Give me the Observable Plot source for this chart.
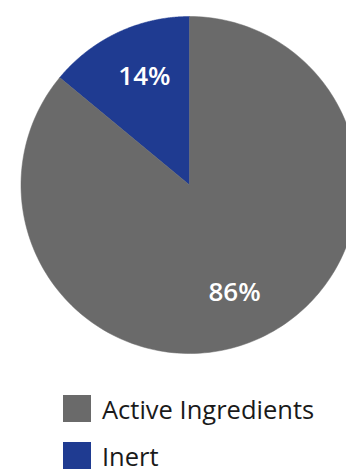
<!DOCTYPE html>
<html>
<head>
<meta charset="utf-8">
<script src="https://cdn.jsdelivr.net/npm/d3@7"></script>
<script src="https://cdn.jsdelivr.net/npm/@observablehq/plot@0.6"></script>
<style>
  html, body { margin: 0; padding: 0; background: #fff; width: 346px; height: 472px; overflow: hidden; position: relative; }
  #legend { font-family: "Open Sans", sans-serif; font-size: 25.5px; color: #1a1a1a; }
  .row { position: absolute; left: 63px; display: flex; align-items: center; height: 27px; }
  .row span { line-height: 22px; display: block; }
  .sw { width: 28px; height: 27px; margin-right: 11px; flex: none; }
</style>
</head>
<body>
<div id="chart"></div>
<div id="legend"></div>
<script>
const categories = ["Inert", "Active Ingredients"];
const values = [14, 86];
const labels = ["14%", "86%"];
const colors = ["#1f3b91", "#6a6a6a"];
const legendOrder = ["Active Ingredients", "Inert"];

const W = 346, H = 372;
const cx = 189, cy = 184.5, R = 168.5;

const total = d3.sum(values);
const start = -values[0] / total * 2 * Math.PI;
const arcs = d3.pie().sort(null).value(d => d)
  .startAngle(start).endAngle(start + 2 * Math.PI)(values);

const polys = [];
arcs.forEach((a, i) => {
  const n = 200;
  polys.push({cat: categories[i], x: cx, y: cy});
  for (let k = 0; k <= n; k++) {
    const t = a.startAngle + (a.endAngle - a.startAngle) * k / n;
    polys.push({cat: categories[i], x: cx + R * Math.sin(t), y: cy - R * Math.cos(t)});
  }
  polys.push({cat: categories[i], x: cx, y: cy});
});

const labelData = arcs.map((a, i) => {
  const m = (a.startAngle + a.endAngle) / 2 + 0.045;
  const rr = R * 0.695;
  return {label: labels[i], x: cx + rr * Math.sin(m), y: cy - rr * Math.cos(m)};
});

const plot = Plot.plot({
  width: W, height: H,
  margin: 0,
  x: {domain: [0, W], range: [0, W], axis: null},
  y: {domain: [0, H], range: [0, H], axis: null},
  color: {domain: categories, range: colors},
  style: {background: "#fff"},
  marks: [
    ...categories.map((c, i) => Plot.line(polys.filter(d => d.cat === c), {
      x: "x", y: "y", fill: colors[i], stroke: colors[i], strokeWidth: 0.5, curve: "linear"
    })),
    Plot.text(labelData, {
      x: "x", y: "y", text: "label", fill: "white",
      fontSize: 26, fontWeight: 600, fontFamily: "Open Sans, sans-serif"
    })
  ]
});
document.getElementById("chart").appendChild(plot);

const leg = document.getElementById("legend");
const rowTops = [395, 442];
legendOrder.forEach((c, j) => {
  const row = document.createElement("div");
  row.className = "row";
  row.style.top = rowTops[j] + "px";
  const sw = document.createElement("div");
  sw.className = "sw";
  sw.style.background = colors[categories.indexOf(c)];
  const tx = document.createElement("span");
  tx.textContent = c;
  row.appendChild(sw);
  row.appendChild(tx);
  leg.appendChild(row);
});
</script>
</body>
</html>
